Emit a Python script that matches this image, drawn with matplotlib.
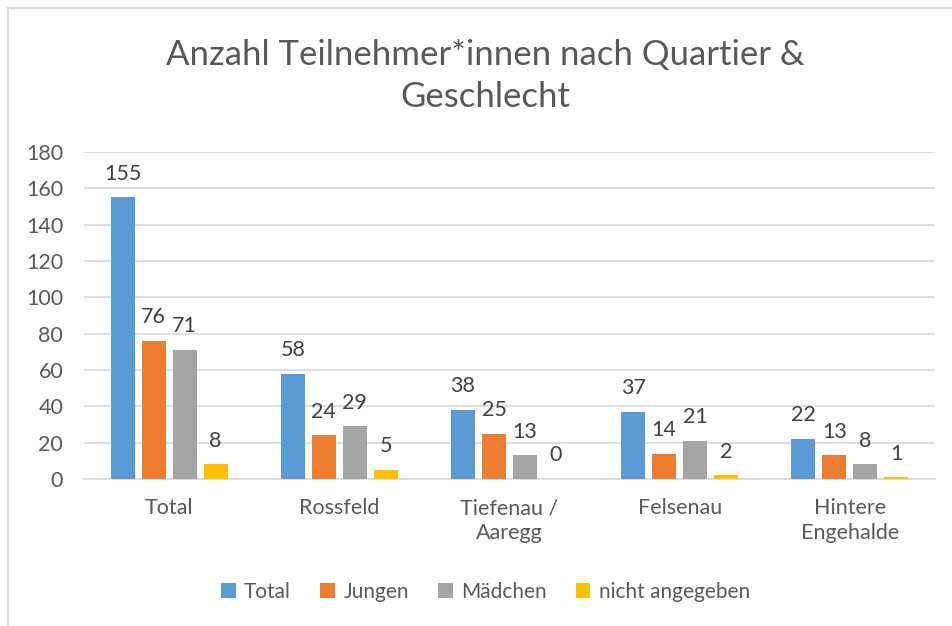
import numpy as np
import matplotlib.pyplot as plt
from matplotlib.patches import Rectangle

plt.rcParams['font.family'] = ['Lato', 'DejaVu Sans']

quartiere = ['Total', 'Rossfeld', 'Tiefenau /\nAaregg', 'Felsenau', 'Hintere\nEngehalde']
serien = ['Total', 'Jungen', 'Mädchen', 'nicht angegeben']
total = [155, 58, 38, 37, 22]
jungen = [76, 24, 25, 14, 13]
maedchen = [71, 29, 13, 21, 8]
nicht_angegeben = [8, 5, 0, 2, 1]
farben = ['#5B9BD5', '#ED7D31', '#A5A5A5', '#FFC000']

text_grau = '#595959'

fig = plt.figure(figsize=(9.52, 6.26), dpi=100)
ax = fig.add_axes([84 / 952, 1 - 479 / 626, (935 - 84) / 952, (479 - 152) / 626])

x = np.arange(len(quartiere))
breite = 0.141
schritt = 0.182
werte = [total, jungen, maedchen, nicht_angegeben]
for i, (name, vals, farbe) in enumerate(zip(serien, werte, farben)):
    pos = x + (i - 1.5) * schritt
    ax.bar(pos, vals, breite, color=farbe, label=name, zorder=3)
    for p, v in zip(pos, vals):
        ax.text(p, v + 7.5, str(v), ha='center', va='bottom', fontsize=15.5, color='#404040')

ax.set_xlim(-0.5, len(quartiere) - 0.5)
ax.set_ylim(0, 180)
ax.set_yticks(range(0, 181, 20))
ax.grid(axis='y', color='#D9D9D9', linewidth=1.2, zorder=0)
for s in ['top', 'right', 'left']:
    ax.spines[s].set_visible(False)
ax.spines['bottom'].set_color('#D9D9D9')
ax.spines['bottom'].set_linewidth(1.2)
ax.tick_params(axis='both', length=0, labelsize=15.5, labelcolor=text_grau)
ax.tick_params(axis='y', pad=15)
ax.tick_params(axis='x', pad=14)
ax.set_xticks(x)
ax.set_xticklabels(quartiere, linespacing=1.3)

fig.text(0.51, 1 - 76 / 626, 'Anzahl Teilnehmer*innen nach Quartier &\nGeschlecht',
         ha='center', va='center', fontsize=25, color=text_grau, linespacing=1.4)

fig.legend(loc='center', bbox_to_anchor=(0.51, 1 - 592 / 626), ncol=4, frameon=False,
           fontsize=15, labelcolor=text_grau, handlelength=0.7, handleheight=0.7,
           handletextpad=0.4, columnspacing=1.4)

fig.patches.append(Rectangle((7.5 / 952, -0.1), 1.2, 1 - 7.5 / 626 + 0.1, transform=fig.transFigure,
                             fill=False, edgecolor='#D9D9D9', linewidth=1.5))

fig.savefig('out.png', dpi=100)
